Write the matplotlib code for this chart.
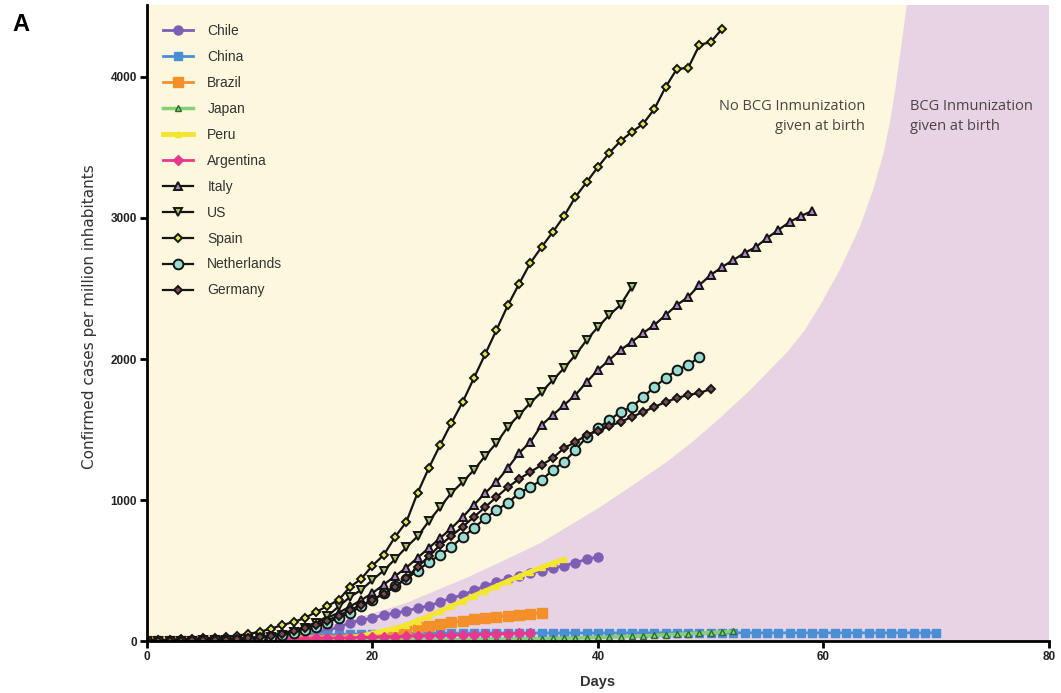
import numpy as np
import matplotlib
matplotlib.use("Agg")
import matplotlib.pyplot as plt

plt.rcParams["font.family"] = ["Liberation Sans", "DejaVu Sans"]

# confirmed cases per million inhabitants, one value per day since first case
chile = [0, 0, 1, 1, 2, 3, 4, 5, 7, 9,
         12, 16, 22, 30, 40, 55, 75, 100, 128, 149,
         163, 184, 199, 212, 234, 248, 277, 305, 326, 360,
         390, 418, 440, 462, 480, 500, 515, 535, 553, 582,
         596]
china = [1, 2, 3, 5, 7, 9, 12, 15, 18, 22,
         26, 29, 33, 36, 39, 42, 44, 46, 48, 50,
         51, 52, 53, 54, 54, 55, 55, 56, 56, 56,
         57, 57, 57, 57, 57, 57, 57, 57, 57, 57,
         57, 57, 58, 58, 58, 58, 58, 58, 58, 58,
         58, 58, 58, 58, 58, 58, 58, 58, 58, 58,
         58, 58, 58, 58, 58, 58, 58, 58, 58, 58,
         59]
brazil = [0, 0, 0, 0, 0, 1, 1, 1, 1, 2,
          2, 3, 3, 4, 5, 6, 8, 10, 13, 17,
          25, 38, 55, 76, 96, 109, 120, 132, 144, 156,
          164, 172, 180, 188, 194, 200]
japan = [0, 0, 0, 0, 1, 1, 1, 1, 1, 1,
         2, 2, 2, 2, 3, 3, 3, 4, 4, 4,
         5, 5, 6, 6, 7, 7, 8, 8, 9, 10,
         11, 12, 13, 14, 15, 16, 18, 20, 22, 24,
         26, 28, 31, 34, 37, 40, 44, 48, 52, 56,
         60, 64, 68]
peru = [0, 0, 0, 0, 0, 0, 1, 1, 1, 2,
        2, 3, 4, 5, 6, 8, 11, 15, 22, 35,
        55, 70, 90, 113, 145, 178, 212, 248, 285, 322,
        356, 390, 425, 458, 492, 522, 552, 580]
argentina = [1, 1, 2, 2, 3, 4, 5, 6, 7, 8,
             10, 11, 13, 14, 16, 18, 20, 22, 24, 26,
             28, 30, 32, 34, 36, 38, 40, 42, 44, 46,
             48, 50, 52, 54, 56]
italy = [1, 1, 2, 2, 3, 5, 7, 10, 14, 20,
         28, 40, 55, 75, 100, 130, 165, 200, 245, 290,
         340, 400, 460, 520, 590, 660, 730, 800, 879, 965,
         1050, 1128, 1227, 1333, 1411, 1532, 1603, 1674, 1745, 1837,
         1922, 1993, 2064, 2121, 2184, 2241, 2312, 2383, 2440, 2525,
         2596, 2652, 2702, 2752, 2794, 2858, 2915, 2972, 3014, 3050]
us = [1, 1, 2, 2, 3, 4, 5, 7, 10, 14,
      20, 30, 45, 65, 95, 130, 175, 245, 312, 362,
      433, 500, 580, 665, 742, 850, 950, 1050, 1128, 1213,
      1312, 1404, 1518, 1603, 1688, 1766, 1851, 1936, 2028, 2135,
      2227, 2312, 2383, 2511]
spain = [5, 7, 9, 12, 15, 19, 24, 30, 38, 50,
         65, 88, 113, 135, 163, 206, 248, 291, 383, 440,
         535, 610, 738, 844, 1050, 1227, 1390, 1546, 1695, 1865,
         2035, 2206, 2380, 2532, 2681, 2794, 2901, 3014, 3149, 3255,
         3362, 3461, 3546, 3610, 3667, 3773, 3929, 4057, 4064, 4227,
         4248, 4340]
netherlands = [1, 1, 1, 2, 3, 4, 5, 7, 10, 14,
               20, 28, 40, 55, 75, 100, 130, 165, 200, 245,
               290, 340, 390, 440, 500, 560, 610, 667, 738, 801,
               872, 929, 979, 1050, 1092, 1142, 1213, 1270, 1355, 1447,
               1510, 1567, 1624, 1660, 1730, 1801, 1865, 1922, 1957, 2014]
germany = [1, 1, 2, 3, 4, 5, 7, 10, 14, 20,
           28, 38, 52, 70, 90, 115, 145, 180, 220, 255,
           291, 335, 383, 450, 525, 600, 681, 745, 810, 880,
           950, 1021, 1090, 1149, 1199, 1248, 1298, 1369, 1411, 1461,
           1489, 1525, 1553, 1589, 1624, 1660, 1695, 1723, 1745, 1759,
           1787]

# edge of the "BCG at birth" zone (day, cases)
zone_day = [8, 11, 14, 17, 20, 23, 26, 28.4, 31.5, 34.9, 37.5, 40.2, 43, 46.1,
            48.5, 50.8, 53.5, 56.8, 58.3, 59.7, 61.5, 63.3, 64.4, 65.3, 65.9,
            66.4, 66.9, 67.4]
zone_cases = [0, 28, 75, 128, 195, 270, 370, 450, 565, 695, 820, 950, 1100, 1270,
              1420, 1580, 1780, 2050, 2200, 2380, 2640, 2950, 3200, 3450, 3680,
              3930, 4220, 4520]

Y_TOP = 4510
BLACK = "#151515"

fig = plt.figure(figsize=(10.61, 6.93), dpi=100)
ax = fig.add_axes([0.1385, 0.075, 0.8502, 0.9177])
ax.set_facecolor("#fdf7dd")

px = list(zone_day) + [80, 80]
py = list(zone_cases) + [Y_TOP + 50, 0]
ax.fill(px, py, color="#e7d3e4", lw=0, zorder=0.5)

colored = [
    ("Chile", chile, "o", "#7e5db5", 6.5, 2),
    ("China", china, "s", "#4a8fd6", 5.5, 2),
    ("Brazil", brazil, "s", "#f4902a", 6.5, 2),
    ("Japan", japan, "^", "#86cf72", 4, 2.5),
    ("Peru", peru, "^", "#f3e62e", 4, 3.5),
    ("Argentina", argentina, "D", "#e8388e", 5, 2),
]
for name, vals, mk, col, ms, lw in colored:
    d = np.arange(len(vals))
    edge = "#2e6b2e" if name == "Japan" else col
    ax.plot(d, vals, marker=mk, color=col, ms=ms, mec=edge, lw=lw, label=name, zorder=3)

dark = [
    ("Italy", italy, "^", "#b584c9", 5.8),
    ("US", us, "v", "#a9c46a", 5.8),
    ("Spain", spain, "D", "#e3ea5a", 4.5),
    ("Netherlands", netherlands, "o", "#97dcd3", 7),
    ("Germany", germany, "D", "#7a4a4e", 4.5),
]
for name, vals, mk, face, ms in dark:
    d = np.arange(len(vals))
    ax.plot(d, vals, marker=mk, color=BLACK, mfc=face, mec=BLACK, ms=ms, mew=1.4,
            lw=1.6, label=name, zorder=4)

ax.set_xlim(0, 80)
ax.set_ylim(0, Y_TOP)
ax.set_xticks([0, 20, 40, 60, 80])
ax.set_yticks([0, 1000, 2000, 3000, 4000])
for s in ("top", "right"):
    ax.spines[s].set_visible(False)
for s in ("left", "bottom"):
    ax.spines[s].set_linewidth(2)
    ax.spines[s].set_zorder(5)
ax.tick_params(length=5, width=2, labelsize=8.5, pad=2)
for t in ax.get_xticklabels() + ax.get_yticklabels():
    t.set_fontweight("bold")
    t.set_color("#222222")

ax.set_xlabel("Days", fontsize=10.5, fontweight="bold", color="#333333", labelpad=9)
ax.set_ylabel("Confirmed cases per million inhabitants", fontsize=11, color="#333333",
              family=["DejaVu Sans"])
ax.yaxis.set_label_coords(-0.055, 0.51)

note_font = ["Open Sans", "DejaVu Sans"]
ax.text(63.7, 3720, "No BCG Inmunization\ngiven at birth", ha="right", va="center",
        fontsize=10.5, color="#4a4444", family=note_font, linespacing=1.45)
ax.text(67.7, 3720, "BCG Inmunization\ngiven at birth", ha="left", va="center",
        fontsize=10.5, color="#4a4444", family=note_font, linespacing=1.45)

leg = ax.legend(loc="upper left", bbox_to_anchor=(0.0115, 0.979), frameon=False,
                fontsize=10, handlelength=2.2, handletextpad=1.0, labelspacing=0.86,
                borderaxespad=0, numpoints=1)
for t in leg.get_texts():
    t.set_color("#333333")

fig.text(0.012, 0.965, "A", fontsize=17, fontweight="bold", va="center")

fig.savefig("out.png", dpi=100)
